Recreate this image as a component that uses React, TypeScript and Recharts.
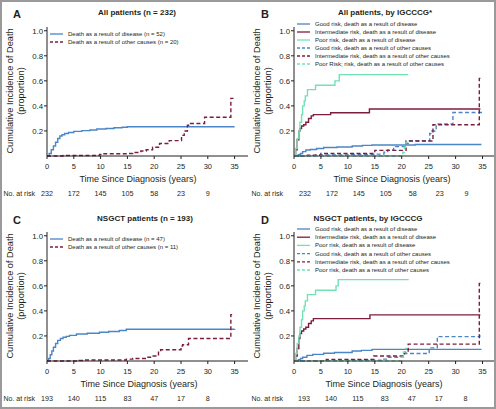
import React from "react";
import { LineChart, Line, XAxis, YAxis } from "recharts";

const FONT = '"Liberation Sans", Arial, Helvetica, sans-serif';
const INK = "#231f20";

const xTicks = [0, 5, 10, 15, 20, 25, 30, 35];
const yTicks = [0.2, 0.4, 0.6, 0.8, 1.0];

const riskAll = [232, 172, 145, 105, 58, 23, 9];
const riskNsgct = [193, 140, 115, 83, 47, 17, 8];

// [years, cumulative incidence]
const aDisease = [[0,0],[0.4,0.02],[0.8,0.05],[1.2,0.08],[1.6,0.11],[2,0.14],[2.4,0.16],[2.8,0.17],[3.3,0.18],[4,0.188],[5,0.197],[6.5,0.203],[8,0.208],[9.3,0.215],[11,0.22],[12.5,0.226],[14,0.23],[15,0.234],[35,0.234]];
const aOther = [[0,0],[3,0.004],[9.8,0.012],[10.3,0.018],[15,0.02],[16,0.028],[17.5,0.04],[18.5,0.05],[19.7,0.07],[21,0.1],[22.8,0.123],[25.1,0.165],[25.6,0.2],[26.2,0.245],[26.6,0.26],[29.4,0.31],[34.3,0.46],[34.8,0.46]];

const bGoodDisease = [[0,0],[0.8,0.01],[1.2,0.02],[1.6,0.035],[2.2,0.048],[3,0.052],[4.2,0.06],[5.5,0.068],[8,0.072],[10.8,0.08],[12.7,0.085],[14.5,0.088],[22.5,0.092],[34.8,0.092]];
const bIntDisease = [[0,0],[0.3,0.05],[0.6,0.13],[0.9,0.2],[1.1,0.22],[1.4,0.24],[1.8,0.25],[2.2,0.27],[2.7,0.3],[3.2,0.32],[3.6,0.33],[6.8,0.345],[14,0.375],[34.6,0.375]];
const bPoorDisease = [[0,0],[0.3,0.06],[0.6,0.14],[0.9,0.2],[1.1,0.27],[1.4,0.33],[1.6,0.4],[1.9,0.44],[2.1,0.48],[2.5,0.53],[4,0.565],[7.6,0.6],[8.4,0.65],[21.2,0.65]];
const bGoodOther = [[0,0],[1.5,0.003],[4,0.008],[10,0.012],[15,0.015],[16.7,0.03],[17.4,0.048],[18.5,0.075],[20.8,0.1],[21.2,0.122],[25.2,0.18],[25.6,0.2],[26.4,0.256],[29.5,0.347],[35,0.347]];
const bIntOther = [[0,0],[2.5,0.006],[5,0.02],[15,0.045],[20.8,0.12],[25.8,0.25],[34.4,0.62],[34.6,0.62]];
const bPoorOther = [[0,0],[20.2,0.03],[20.5,0.07],[20.8,0.11],[21.2,0.11]];

const cDisease = [[0,0],[0.3,0.02],[0.6,0.05],[0.9,0.08],[1.2,0.11],[1.6,0.14],[2,0.165],[2.5,0.18],[3,0.19],[3.6,0.197],[4.2,0.205],[5.5,0.215],[7.5,0.222],[9.8,0.23],[11.5,0.235],[13.5,0.243],[14.8,0.253],[35,0.255]];
const cOther = [[0,0],[6,0.004],[7,0.008],[14.8,0.015],[16,0.02],[18.5,0.03],[19.5,0.04],[20.3,0.05],[20.8,0.07],[21.2,0.09],[25,0.12],[25.3,0.13],[26.4,0.18],[34.3,0.37],[34.9,0.37]];

const dGoodDisease = [[0,0],[0.8,0.01],[1.2,0.02],[1.6,0.03],[2.4,0.045],[3.5,0.053],[5.5,0.062],[7.5,0.068],[10.8,0.08],[12.5,0.085],[14.5,0.093],[34.8,0.093]];
const dIntDisease = [[0,0],[0.3,0.04],[0.6,0.1],[0.9,0.18],[1.1,0.22],[1.4,0.24],[1.8,0.255],[2.2,0.27],[2.7,0.3],[3.2,0.32],[3.6,0.338],[14.1,0.368],[34.6,0.368]];
const dPoorDisease = [[0,0],[0.3,0.06],[0.6,0.14],[0.9,0.2],[1.1,0.27],[1.4,0.33],[1.6,0.4],[1.9,0.44],[2.1,0.48],[2.5,0.53],[4,0.565],[7.8,0.6],[8.2,0.65],[21.3,0.65]];
const dGoodOther = [[0,0],[3,0.003],[10,0.006],[16.5,0.015],[17.3,0.03],[20.3,0.06],[25.1,0.105],[26.6,0.195],[34.5,0.205],[34.7,0.205]];
const dIntOther = [[0,0],[6,0.013],[14.8,0.04],[20.5,0.07],[21.2,0.135],[34.4,0.62],[34.6,0.62]];
const dPoorOther = [[0,0],[19.9,0.03],[20.3,0.07],[20.6,0.1],[21,0.1]];

const BLUE = "#4a86c8";
const MAROON = "#7c1c40";
const MINT = "#72e2b4";

type Series = { name: string; data: number[][]; color: string; dashed?: boolean };

const seriesA: Series[] = [
  { name: "Death as a result of disease (n = 52)", data: aDisease, color: BLUE },
  { name: "Death as a result of other causes (n = 20)", data: aOther, color: MAROON, dashed: true },
];
const seriesB: Series[] = [
  { name: "Good risk, death as a result of disease", data: bGoodDisease, color: BLUE },
  { name: "Intermediate risk, death as a result of disease", data: bIntDisease, color: MAROON },
  { name: "Poor risk, death as a result of disease", data: bPoorDisease, color: MINT },
  { name: "Good risk, death as a result of other causes", data: bGoodOther, color: BLUE, dashed: true },
  { name: "Intermediate risk, death as a result of other causes", data: bIntOther, color: MAROON, dashed: true },
  { name: "Poor Risk; risk, death as a result of other causes", data: bPoorOther, color: MINT, dashed: true },
];
const seriesC: Series[] = [
  { name: "Death as a result of disease (n = 47)", data: cDisease, color: BLUE },
  { name: "Death as a result of other causes (n = 11)", data: cOther, color: MAROON, dashed: true },
];
const seriesD: Series[] = [
  { name: "Good risk, death as a result of disease", data: dGoodDisease, color: BLUE },
  { name: "Intermediate risk, death as a result of disease", data: dIntDisease, color: MAROON },
  { name: "Poor risk, death as a result of disease", data: dPoorDisease, color: MINT },
  { name: "Good risk, death as a result of other causes", data: dGoodOther, color: BLUE, dashed: true },
  { name: "Intermediate risk, death as a result of other causes", data: dIntOther, color: MAROON, dashed: true },
  { name: "Poor risk, death as a result of other causes", data: dPoorOther, color: MINT, dashed: true },
];

const TimeTick = (props: any) => {
  const { x, y, payload, risk, shift } = props;
  const i = xTicks.indexOf(payload.value);
  return (
    <g fontFamily={FONT} fill={INK}>
      <text x={x} y={y} dy={7.5} textAnchor="middle" fontSize={7.5}>{payload.value}</text>
      {risk[i] !== undefined && (
        <text x={x + shift} y={y} dy={34.5} textAnchor="middle" fontSize={7.2}>{risk[i]}</text>
      )}
    </g>
  );
};

type PanelProps = {
  left: number; top: number; height: number;
  letter: string; title: string; titleX: number; titleY: number; letterY: number;
  series: Series[]; risk: number[]; riskShift: number; yw: number; xLabelX: number;
  legendY: number; legendStep: number;
};

function Panel(p: PanelProps) {
  const lx = p.yw + 3;
  return (
    <div style={{ position: "absolute", left: p.left, top: p.top, width: 248, height: p.height }}>
      <LineChart width={248} height={p.height} margin={{ top: 27, right: 0, bottom: p.height - 205, left: 0 }}>
        <XAxis
          type="number" dataKey="t" domain={[0, 37.5]} ticks={xTicks} interval={0}
          stroke={INK} tickSize={3} height={49}
          tick={<TimeTick risk={p.risk} shift={p.riskShift} />}
        />
        <YAxis
          type="number" domain={[0, 1.03]} ticks={yTicks} interval={0} width={p.yw}
          stroke={INK} tickSize={3} tickMargin={1}
          tickFormatter={(v: number) => v.toFixed(1)}
          tick={{ fontSize: 7.8, fill: INK, fontFamily: FONT }}
        />
        {p.series.map((s) => (
          <Line
            key={s.name}
            data={s.data.map(([t, v]) => ({ t, v }))}
            dataKey="v" type="stepAfter" dot={false} activeDot={false}
            stroke={s.color} strokeWidth={1.4}
            strokeDasharray={s.dashed ? "4 2.5" : undefined}
            isAnimationActive={false}
          />
        ))}
      </LineChart>
      <svg width={248} height={p.height} style={{ position: "absolute", left: 0, top: 0, pointerEvents: "none" }} fontFamily={FONT}>
        <text x={13} y={p.letterY} fontSize={11} fontWeight="bold" fill={INK}>{p.letter}</text>
        <text x={p.titleX} y={p.titleY} fontSize={8} fontWeight="bold" fill={INK} textAnchor="middle">{p.title}</text>
        <g transform={`translate(${p.yw - 34}, 91) rotate(-90)`}>
          <text x={0} y={0} fontSize={9.2} fill={INK} textAnchor="middle">Cumulative Incidence of Death</text>
          <text x={0} y={10.5} fontSize={9.2} fill={INK} textAnchor="middle">(proportion)</text>
        </g>
        <text x={p.xLabelX} y={181.5} fontSize={9} fill={INK} textAnchor="middle">Time Since Diagnosis (years)</text>
        <text x={3.5} y={195.5} fontSize={7} fill={INK}>No. at risk</text>
        {p.series.map((s, i) => {
          const y = p.legendY + i * p.legendStep;
          return (
            <g key={s.name}>
              <line x1={lx} x2={lx + 13} y1={y} y2={y} stroke={s.color} strokeWidth={1.3} strokeDasharray={s.dashed ? "3 2" : undefined} />
              <text x={lx + 18} y={y + 2} fontSize={6} fill={INK}>{s.name}</text>
            </g>
          );
        })}
      </svg>
    </div>
  );
}

export default function App() {
  return (
    <div style={{ position: "absolute", left: 0, top: 0, width: 496, height: 409, background: "#fff", overflow: "hidden" }}>
      <Panel left={0} top={0} height={205} letter="A" title="All patients (n = 232)" titleX={137} titleY={15} letterY={18}
        series={seriesA} risk={riskAll} riskShift={0} yw={47} xLabelX={138} legendY={34} legendStep={8} />
      <Panel left={248} top={0} height={205} letter="B" title="All patients, by IGCCCG*" titleX={137} titleY={15} letterY={18}
        series={seriesB} risk={riskAll} riskShift={11} yw={46} xLabelX={144} legendY={24} legendStep={8} />
      <Panel left={0} top={205} height={204} letter="C" title="NSGCT patients (n = 193)" titleX={145} titleY={16} letterY={19}
        series={seriesC} risk={riskNsgct} riskShift={0} yw={47} xLabelX={139} legendY={34} legendStep={8} />
      <Panel left={248} top={205} height={204} letter="D" title="NSGCT patients, by IGCCCG" titleX={120} titleY={16} letterY={19}
        series={seriesD} risk={riskNsgct} riskShift={10} yw={46} xLabelX={136} legendY={24} legendStep={8.2} />
      <div style={{ position: "absolute", left: 0, top: 0, width: 496, height: 409, boxSizing: "border-box", border: "2px solid #9a9a9a", pointerEvents: "none" }} />
    </div>
  );
}
